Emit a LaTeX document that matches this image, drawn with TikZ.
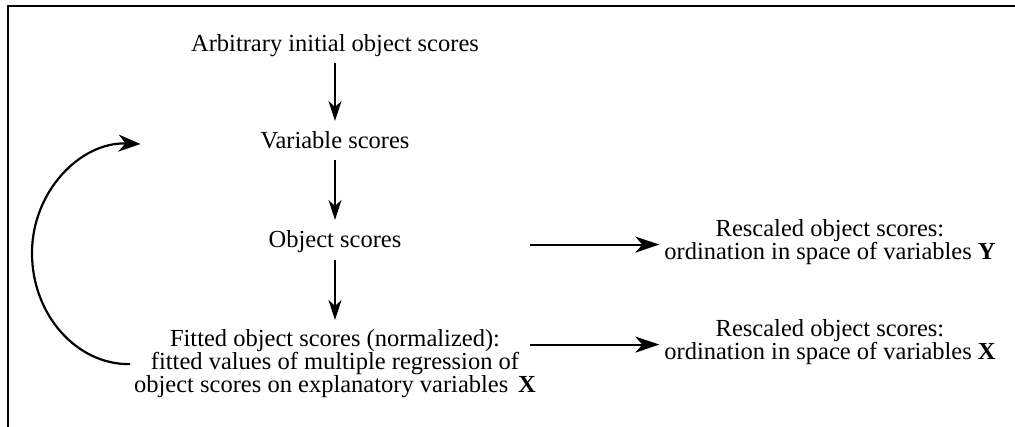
\documentclass[tikz,border=0pt]{standalone}
\usepackage{fontspec}
\setmainfont{Liberation Serif}
\usetikzlibrary{arrows.meta}

\begin{document}
\begin{tikzpicture}[x=1pt, y=-1pt,
  every node/.style={inner sep=0pt, outer sep=0pt,
    font=\fontsize{24.5}{23}\selectfont},
  step label/.style={anchor=base, text height=17pt, text depth=5pt},
  block/.style={anchor=north, align=center},
  down/.style={line width=2pt, -{Stealth[length=20pt, width=13pt, inset=6pt]},
    shorten <=6pt, shorten >=11pt},
  across/.style={line width=2.2pt, -{Stealth[length=24pt, width=16pt, inset=7pt]},
    shorten <=-6pt, shorten >=5pt},
  loop/.style={line width=2.2pt, -{Stealth[length=22pt, width=17pt, inset=7pt]}}]

  \useasboundingbox (0,0) rectangle (1015,427);

  % open frame: top and left edges
  \draw[line width=2.6pt] (8,428) -- (8,6) -- (1016,6);

  % main column
  \node[step label] (arb) at (335,51.7) {Arbitrary initial object scores};
  \node[step label] (var) at (335,149) {Variable scores};
  \node[step label] (obj) at (335,248) {Object scores};
  \node[block] (fit) at (335,330)
    {Fitted object scores (normalized):\\
     fitted values of multiple regression of\\
     object scores on explanatory variables\hspace{0.4em}\textbf{X}};

  % results on the right
  \node[block] (resy) at (830,220)
    {Rescaled object scores:\\ ordination in space of variables \textbf{Y}};
  \node[block] (resx) at (830,320)
    {Rescaled object scores:\\ ordination in space of variables \textbf{X}};

  % vertical flow
  \draw[down] (arb.south) -- (var.north);
  \draw[down] (var.south) -- (obj.north);
  \draw[down, shorten <=7pt, shorten >=10pt] (obj.south) -- (fit.north);

  % horizontal flow
  \draw[across] ([yshift=-2pt]fit.east |- resy.west) -- ([yshift=-2pt]resy.west);
  \draw[across] ([yshift=-2pt]fit.east |- resx.west) -- ([yshift=-2pt]resx.west);

  % iteration loop back to the variable scores
  \coordinate (loopend) at ([xshift=-120pt, yshift=-1pt]var.west);
  \draw[loop] ([xshift=-4pt]fit.west)
    .. controls (76.8,365) and (32,314.9) .. (32,253)
    .. controls (32,191.5) and (80.4,141.7) .. (loopend);
\end{tikzpicture}
\end{document}
